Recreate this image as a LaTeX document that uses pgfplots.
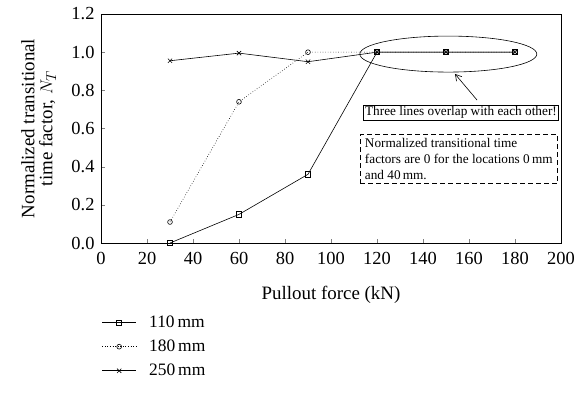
\documentclass[border=0pt]{standalone}
\usepackage{fontspec}
\setmainfont{Liberation Serif}
\usepackage{pgfplots}
\pgfplotsset{compat=1.18}
\usetikzlibrary{arrows.meta}
\begin{document}
\begin{tikzpicture}[x=1bp,y=1bp]
\path[use as bounding box] (-101,-163) rectangle (484,243);
\begin{axis}[
  at={(0,0)}, anchor=south west,
  scale only axis, width=460bp, height=229bp,
  xmin=0, xmax=200, ymin=0, ymax=1.2,
  xtick={0,20,...,200}, ytick={0,0.2,...,1.2},
  yticklabel style={/pgf/number format/fixed,/pgf/number format/fixed zerofill,/pgf/number format/precision=1},
  /pgf/number format/assume math mode=true,
  tick align=inside, xtick pos=bottom, ytick pos=left,
  major tick length=4bp,
  tick label style={font=\fontsize{18.5}{21}\selectfont},
  xticklabel style={yshift=-6bp},
  yticklabel style={xshift=-3bp},
  label style={font=\fontsize{19}{21}\selectfont},
  xlabel={Pullout force (kN)},
  ylabel={\begin{tabular}{c}Normalized transitional\\[-3bp]time factor, $N_T$\end{tabular}},
  ylabel style={yshift=6bp},
  xlabel style={yshift=-14bp},
  axis line style={line width=0.9pt},
  every axis plot/.append style={line width=0.6pt, black},
  legend style={at={(-0.005,-0.305)}, anchor=north west, draw=none, fill=none,
    font=\fontsize{17.5}{20}\selectfont, row sep=9bp,
    nodes={inner sep=1bp}},
  legend image code/.code={
    \draw[mark repeat=2,mark phase=2] plot coordinates {(0bp,0bp) (17bp,0bp) (34bp,0bp)};
    \path[draw=none] (0bp,0bp) (46bp,0bp);},
  legend cell align=left,
  clip=false,
]
\addplot[mark=square, mark size=2.6pt, mark options={solid}] coordinates {(30,0) (60,0.15) (90,0.36) (120,1) (150,1) (180,1)};
\addlegendentry{110\,mm}
\addplot[dotted, mark=o, mark size=2.4pt, mark options={solid}] coordinates {(30,0.11) (60,0.74) (90,1.0) (120,1) (150,1) (180,1)};
\addlegendentry{180\,mm}
\addplot[mark=x, mark size=3pt, mark options={solid}] coordinates {(30,0.955) (60,0.995) (90,0.95) (120,1) (150,1) (180,1)};
\addlegendentry{250\,mm}
\draw[line width=0.6pt] (axis cs:151,0.99) ellipse [x radius=88.5bp, y radius=18bp];
\draw[line width=0.6pt,-{Straight Barb[length=6bp,width=7bp]}] (axis cs:163.5,0.749) -- (axis cs:153.9,0.886);
\node[draw, line width=0.6pt, inner sep=1.5bp, font=\fontsize{13.3}{15}\selectfont] at (axis cs:156.5,0.683) {Three lines overlap with each other!};
\node[draw, dashed, dash pattern=on 5bp off 3bp, line width=0.6pt, inner xsep=4bp, inner ysep=4bp, align=left, anchor=north west,
  minimum width=197bp, font=\fontsize{13.3}{16}\selectfont] at (axis cs:112.6,0.571) {Normalized transitional time\\factors are 0 for the locations 0\,mm\\and 40\,mm.};
\end{axis}
\end{tikzpicture}
\end{document}
